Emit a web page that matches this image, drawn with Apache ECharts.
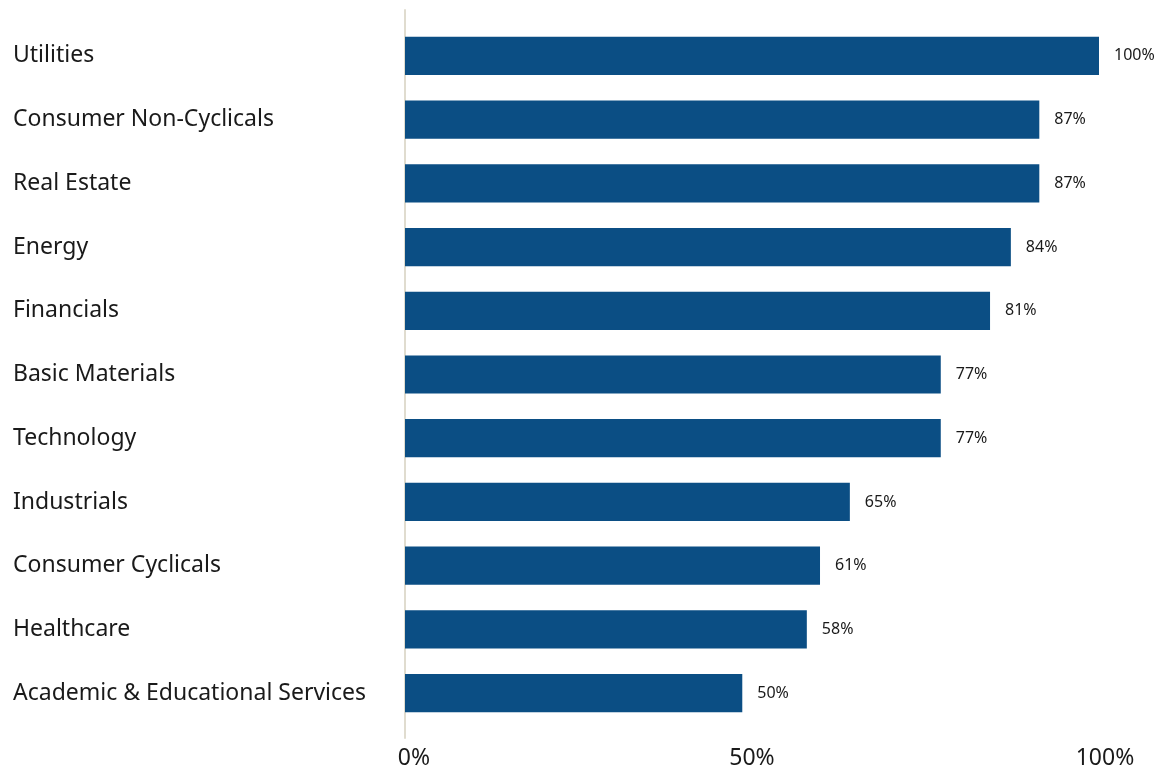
<!DOCTYPE html>
<html>
<head>
<meta charset="utf-8">
<script src="https://cdn.jsdelivr.net/npm/echarts@6/dist/echarts.min.js"></script>
<style>
html,body{margin:0;padding:0;background:#fff;}
#main{width:1164px;height:776px;}
</style>
</head>
<body>
<div id="main"></div>
<script>
const categories = ["Utilities","Consumer Non-Cyclicals","Real Estate","Energy","Financials","Basic Materials","Technology","Industrials","Consumer Cyclicals","Healthcare","Academic & Educational Services"];
const barValues = [100, 91.4, 91.4, 87.3, 84.3, 77.2, 77.2, 64.1, 59.8, 57.9, 48.6];
const valueLabels = ["100%","87%","87%","84%","81%","77%","77%","65%","61%","58%","50%"];
const xTicks = [0, 50, 100];

const FONT = "'Noto Sans', sans-serif";
const chart = echarts.init(document.getElementById('main'), null, {renderer:'canvas'});
chart.setOption({
  animation:false,
  backgroundColor:'#ffffff',
  grid:[
    {left:405, right:65, top:24, bottom:51, containLabel:false},
    {left:405, right:65, top:10, bottom:38, containLabel:false}
  ],
  xAxis:[
    {type:'value', gridIndex:0, min:0, max:100, interval:50,
     axisLine:{show:false}, axisTick:{show:false}, splitLine:{show:false},
     axisLabel:{margin:22, fontSize:23, color:'#1a1a1a', fontFamily:FONT,
       formatter:function(v){
         if (xTicks.indexOf(v) < 0) return '';
         if (v === 0) return '{first|' + v + '%}';
         if (v === 100) return '{last|' + v + '%}';
         return v + '%';
       },
       rich:{
         first:{fontSize:23, color:'#1a1a1a', fontFamily:FONT, padding:[0,0,0,18]},
         last:{fontSize:23, color:'#1a1a1a', fontFamily:FONT, padding:[0,0,0,12]}
       }}},
    {type:'value', gridIndex:1, min:0, max:100, show:false}
  ],
  yAxis:[
    {type:'category', gridIndex:0, inverse:true, data:categories,
     axisLine:{show:false}, axisTick:{show:false}, splitLine:{show:false},
     axisLabel:{align:'left', margin:392, fontSize:23, color:'#1a1a1a', fontFamily:FONT}},
    {type:'value', gridIndex:1, min:0, max:1,
     axisLine:{show:true, lineStyle:{color:'#e0dccf', width:2}},
     axisTick:{show:false}, axisLabel:{show:false}, splitLine:{show:false}}
  ],
  series:[{
    type:'bar', xAxisIndex:0, yAxisIndex:0,
    data:barValues,
    barCategoryGap:'40%',
    itemStyle:{color:'#0b4e84'},
    label:{show:true, position:'right', distance:15, fontSize:16, color:'#1a1a1a', fontFamily:FONT,
      formatter:function(p){return valueLabels[p.dataIndex];}},
    z:3
  }]
});
</script>
</body>
</html>
